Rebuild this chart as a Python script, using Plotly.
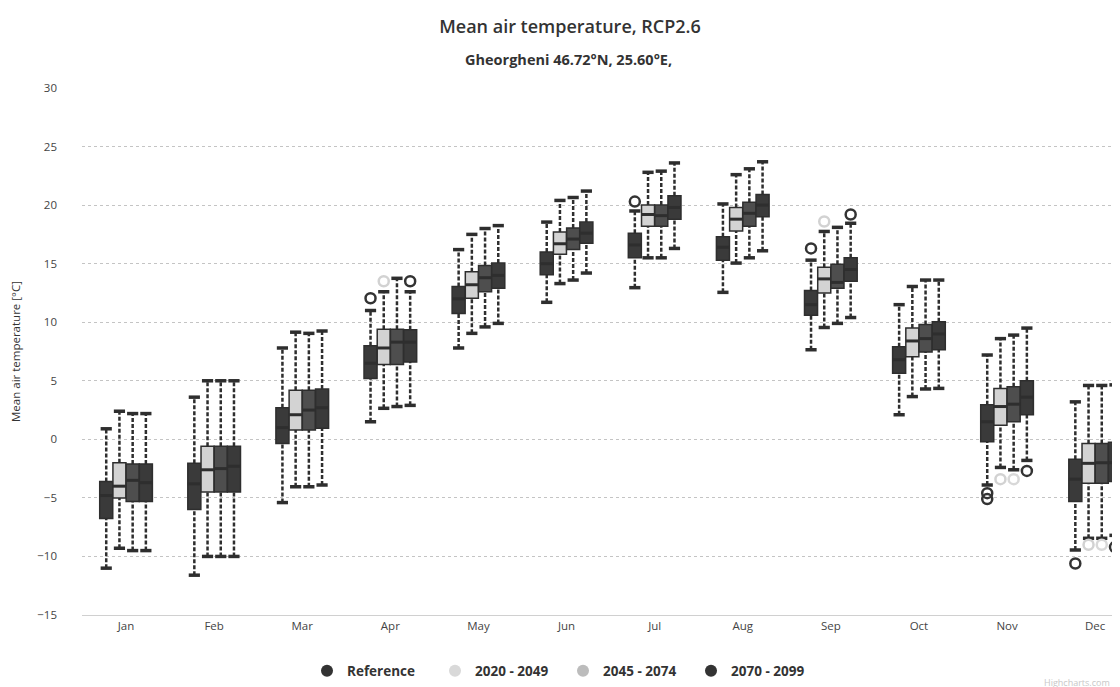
import plotly.graph_objects as go

months = ["Jan", "Feb", "Mar", "Apr", "May", "Jun", "Jul", "Aug", "Sep", "Oct", "Nov", "Dec"]
series_names = ["Reference", "2020 - 2049", "2045 - 2074", "2070 - 2099"]

# Reference
ref_low = [-11.0, -11.6, -5.4, 1.5, 7.8, 11.7, 12.95, 12.55, 7.65, 2.1, -3.9, -9.45]
ref_q1 = [-6.75, -6.0, -0.35, 5.2, 10.75, 14.05, 15.5, 15.3, 10.6, 5.65, -0.2, -5.3]
ref_med = [-4.8, -3.8, 1.0, 6.5, 12.0, 15.0, 16.6, 16.4, 11.5, 6.8, 1.5, -3.4]
ref_q3 = [-3.6, -2.05, 2.7, 8.0, 13.05, 16.0, 17.6, 17.3, 12.7, 7.9, 2.95, -1.7]
ref_high = [0.9, 3.6, 7.8, 11.0, 16.2, 18.55, 19.5, 20.1, 15.3, 11.5, 7.2, 3.2]

# 2020 - 2049
p1_low = [-9.3, -10.0, -4.05, 2.65, 9.05, 13.3, 15.5, 15.05, 9.55, 3.65, -2.4, -8.45]
p1_q1 = [-5.0, -4.5, 0.8, 6.4, 12.05, 15.8, 18.2, 17.8, 12.5, 7.05, 1.2, -3.75]
p1_med = [-4.0, -2.6, 2.1, 7.8, 13.2, 16.7, 19.2, 18.8, 13.7, 8.4, 2.8, -2.05]
p1_q3 = [-2.0, -0.6, 4.2, 9.4, 14.3, 17.7, 20.0, 19.8, 14.7, 9.5, 4.35, -0.35]
p1_high = [2.4, 5.0, 9.15, 12.6, 17.5, 20.4, 22.8, 22.6, 17.75, 13.05, 8.6, 4.6]

# 2045 - 2074
p2_low = [-9.5, -10.0, -4.05, 2.8, 9.6, 13.6, 15.5, 15.5, 9.9, 4.3, -2.6, -8.45]
p2_q1 = [-5.3, -4.5, 0.8, 6.4, 12.6, 16.2, 18.2, 18.2, 12.9, 7.45, 1.5, -3.75]
p2_med = [-3.5, -2.5, 2.5, 8.3, 13.8, 17.1, 19.1, 19.3, 13.4, 8.6, 3.0, -2.0]
p2_q3 = [-2.1, -0.6, 4.2, 9.4, 14.85, 18.05, 20.0, 20.25, 14.95, 9.8, 4.5, -0.35]
p2_high = [2.2, 5.0, 9.05, 13.75, 18.0, 20.65, 22.9, 23.1, 18.1, 13.6, 8.9, 4.6]

# 2070 - 2099
p3_low = [-9.5, -10.0, -3.9, 2.9, 9.9, 14.2, 16.3, 16.1, 10.4, 4.35, -1.8, -8.2]
p3_q1 = [-5.3, -4.5, 0.95, 6.6, 12.9, 16.75, 18.8, 19.0, 13.5, 7.65, 2.1, -3.6]
p3_med = [-3.7, -2.3, 2.7, 8.3, 14.0, 17.6, 19.8, 20.0, 14.5, 9.0, 3.6, -2.0]
p3_q3 = [-2.1, -0.6, 4.3, 9.35, 15.05, 18.55, 20.8, 20.9, 15.5, 10.05, 5.0, -0.25]
p3_high = [2.2, 5.0, 9.25, 12.6, 18.25, 21.2, 23.6, 23.7, 18.45, 13.6, 9.5, 4.65]

# Outliers: month index and value
ref_out_month = [3, 6, 8, 10, 10, 11]
ref_out_value = [12.05, 20.3, 16.3, -4.6, -5.1, -10.6]
p1_out_month = [3, 8, 10, 11]
p1_out_value = [13.5, 18.6, -3.4, -9.0]
p2_out_month = [10, 11]
p2_out_value = [-3.4, -9.0]
p3_out_month = [3, 8, 10, 11]
p3_out_value = [13.5, 19.2, -2.7, -9.2]

stats = [
    (ref_low, ref_q1, ref_med, ref_q3, ref_high),
    (p1_low, p1_q1, p1_med, p1_q3, p1_high),
    (p2_low, p2_q1, p2_med, p2_q3, p2_high),
    (p3_low, p3_q1, p3_med, p3_q3, p3_high),
]
outliers = [
    (ref_out_month, ref_out_value),
    (p1_out_month, p1_out_value),
    (p2_out_month, p2_out_value),
    (p3_out_month, p3_out_value),
]

offsets = [-0.225, -0.075, 0.075, 0.225]
box_w = 0.148
fills = ["#3a3a3a", "#d3d3d3", "#4e4e4e", "#3a3a3a"]
out_colors = ["#333333", "#d2d2d2", "#d8d8d8", "#333333"]
legend_colors = ["#333333", "#d9d9d9", "#bcbcbc", "#333333"]
dark = "#2e2e2e"

# plot-area geometry (pixels) used for axis ranges / placement
L, R, T, B = 74, 1120, 80, 607
cat_px = 88.1

fig = go.Figure()

# boxes (bars from q1 to q3)
for s, (lo, q1, med, q3, hi) in enumerate(stats):
    xs = [i + offsets[s] for i in range(len(months))]
    fig.add_trace(go.Bar(
        x=xs, y=[b - a for a, b in zip(q1, q3)], base=q1, width=box_w,
        marker=dict(color=fills[s], line=dict(color=dark, width=1.5)),
        showlegend=False, hoverinfo="skip",
    ))

for s, (lo, q1, med, q3, hi) in enumerate(stats):
    xs = [i + offsets[s] for i in range(len(months))]
    wx, wy, mx, my = [], [], [], []
    for i, x in enumerate(xs):
        wx += [x, x, None, x, x, None]
        wy += [q3[i], hi[i], None, lo[i], q1[i], None]
        mx += [x - box_w / 2, x + box_w / 2, None]
        my += [med[i], med[i], None]
    fig.add_trace(go.Scatter(x=wx, y=wy, mode="lines",
                             line=dict(color=dark, width=2.5, dash="4px,2px"),
                             showlegend=False, hoverinfo="skip"))
    fig.add_trace(go.Scatter(x=xs + xs, y=hi + lo, mode="markers",
                             marker=dict(symbol="line-ew", size=8, color=dark,
                                         line=dict(color=dark, width=3.5)),
                             showlegend=False, hoverinfo="skip"))
    fig.add_trace(go.Scatter(x=mx, y=my, mode="lines",
                             line=dict(color=dark, width=3),
                             showlegend=False, hoverinfo="skip"))
    om, ov = outliers[s]
    fig.add_trace(go.Scatter(x=[m + offsets[s] for m in om], y=ov, mode="markers",
                             marker=dict(symbol="circle-open", size=10, color=out_colors[s],
                                         line=dict(color=out_colors[s], width=2.5)),
                             showlegend=False, hoverinfo="skip"))

# legend entries
for s, name in enumerate(series_names):
    fig.add_trace(go.Scatter(x=[None], y=[None], mode="markers", name=name,
                             marker=dict(symbol="circle", size=13, color=legend_colors[s])))

fig.update_layout(
    width=1120, height=687,
    paper_bgcolor="white", plot_bgcolor="white",
    barmode="overlay",
    margin=dict(l=L, r=1120 - R, t=T, b=687 - B),
    font=dict(family="Open Sans, DejaVu Sans, sans-serif", color="#333333"),
    title=dict(text="Mean air temperature, RCP2.6", x=562 / 1120, xref="container",
               xanchor="center", y=1 - 19 / 687, yref="container", yanchor="middle",
               font=dict(size=18, color="#333333", weight=600)),
    annotations=[
        dict(text="Gheorgheni 46.72°N, 25.60°E,", xref="paper", yref="paper",
             x=(560 - L) / (R - L), y=1 + (T - 52) / (B - T),
             xanchor="center", yanchor="middle", showarrow=False,
             font=dict(size=14.5, color="#333333", weight="bold")),
        dict(text="Highcharts.com", xref="paper", yref="paper",
             x=(1104 - L) / (R - L), y=-(674 - B) / (B - T),
             xanchor="right", yanchor="middle", showarrow=False,
             font=dict(size=9, color="#c8c8c8")),
    ],
    legend=dict(orientation="h", x=555 / 1120, xref="container", xanchor="center",
                y=1 - 663 / 687, yref="container", yanchor="middle",
                font=dict(size=13.5, color="#333333", weight="bold"),
                itemsizing="constant", entrywidth=83, entrywidthmode="pixels"),
)

fig.update_xaxes(
    range=[-0.5, -0.5 + (R - L) / cat_px],
    tickmode="array", tickvals=list(range(len(months))), ticktext=months,
    showgrid=False, zeroline=False, showline=True, linecolor="#d0d0d0", linewidth=1,
    ticks="", tickfont=dict(size=11.5, color="#444444"), ticklabelstandoff=0,
)
fig.update_yaxes(
    range=[-15, 30], tickmode="array", tickvals=[-15, -10, -5, 0, 5, 10, 15, 20, 25, 30],
    ticktext=["−15", "−10", "−5", "0", "5", "10", "15", "20", "25", "30"],
    showgrid=True, gridcolor="#c4c4c4", griddash="dot", gridwidth=1,
    zeroline=False, ticks="", tickfont=dict(size=11.5, color="#444444"),
    ticklabelstandoff=24,
    title=dict(text="Mean air temperature [°C]", font=dict(size=11.5, color="#333333"),
               standoff=14),
)

fig.write_html("out.html")
